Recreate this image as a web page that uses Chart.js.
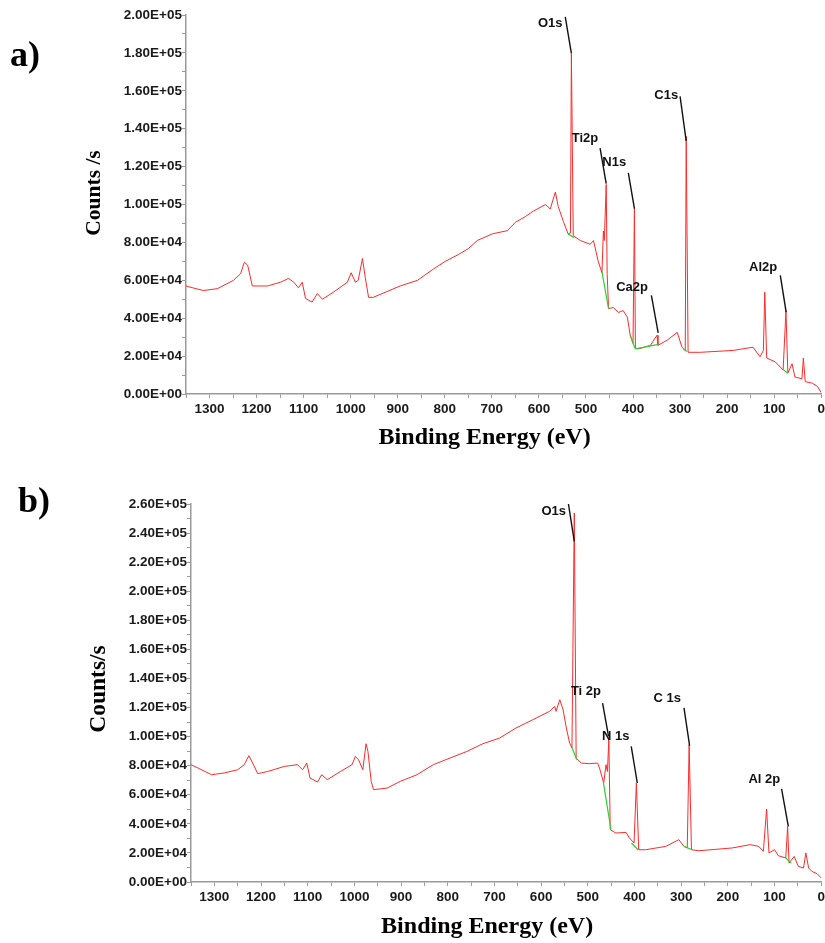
<!doctype html>
<html lang="en">
<head>
<meta charset="UTF-8">
<title>XPS survey spectra</title>
<style>
    * {
        margin: 0;
        padding: 0;
        box-sizing: border-box;
    }

    body {
        width: 825px;
        height: 943px;
        background: #fff;
        position: relative;
        overflow: hidden;
    }

    .panel {
        position: absolute;
        left: 0;
    }

    #panelA { top: 0; }
    #panelB { top: 470px; }

    .tag {
        position: absolute;
        font: bold 36px/36px 'Liberation Serif', 'Times New Roman', serif;
        color: #000;
    }

    #tagA { left: 10px; top: 36px; }
    #tagB { left: 18px; top: 482px; }
</style>
</head>
<body>

<canvas id="panelA" class="panel" width="828" height="470"></canvas>
<canvas id="panelB" class="panel" width="828" height="473"></canvas>
<div id="tagA" class="tag">a)</div>
<div id="tagB" class="tag">b)</div>

<script src="https://cdn.jsdelivr.net/npm/chart.js"></script>

<script>
    // binding energy (eV) and counts/s in thousands

    // a)
    const energyA = [1350, 1335, 1313, 1283, 1249, 1234, 1226, 1219, 1209, 1177, 1149, 1132, 1121, 1111, 1103,
        1096, 1082, 1071, 1060, 1037, 1007, 999, 990, 984, 975, 969, 962, 952, 895, 858, 824, 799, 771, 750,
        731, 699, 667, 650, 629, 612, 586, 576, 565, 559, 548, 538, 533, 531, 527, 512, 491, 484, 474, 466,
        463, 461, 457, 455, 452, 442, 431, 421, 412, 406, 400, 397, 395, 385, 363, 349, 347, 328, 306, 296,
        289, 287, 283, 257, 187, 145, 130, 123, 120, 116, 98, 81, 75, 71, 62, 56, 41, 38, 34, 19, 8, 0];
    const countsA = [57, 56, 54.6, 55.6, 60, 63.5, 69.5, 68, 57, 57, 59, 61, 59, 56, 59,
        50.4, 48.5, 53, 50, 53.7, 59, 64, 59, 60, 71.5, 61.5, 51, 51, 57, 60, 66, 70, 73.6, 76.7,
        81, 84.5, 86.2, 90.6, 93.6, 96.5, 100, 97.6, 106.6, 99, 91, 84.5, 85, 179.6, 83.5, 81, 79, 81, 70, 64,
        86, 81, 110.6, 63.5, 45, 45.7, 43, 44, 40.5, 31, 26.7, 98, 24, 24, 25.7, 31, 25.7, 28.3, 32.5, 24.7,
        23, 136, 22, 22, 23, 24.7, 19.6, 23, 53.7, 19, 17, 12.7, 44, 11, 16, 9, 8, 19, 6.5, 5.7, 4, 0.7];

    // background segments under the peaks (green), null = gap
    const bgEnergyA = [538, 525, 500, 466, 452, 430, 406, 396, 396, 395, 346, 320, 293, 285.5, 150, 80, 71];
    const bgCountsA = [84.5, 82.5, null, 64.4, 45.1, null, 31.1, 24.1, null, 23.8, 26.2, null, 23.8, 22.4, null, 12.7, 11];

    const peaksA = [
        { text: 'O1s', tx: 576, ty: 195.4, x1: 544, y1: 199, x2: 531, y2: 179.7 },
        { text: 'Ti2p', tx: 502, ty: 135, x1: 470, y1: 129.8, x2: 457, y2: 111 },
        { text: 'N1s', tx: 440, ty: 122, x1: 410, y1: 116.7, x2: 397, y2: 97.8 },
        { text: 'Ca2p', tx: 402, ty: 56.4, x1: 361, y1: 52, x2: 346.5, y2: 32.2 },
        { text: 'C1s', tx: 329.5, ty: 157.6, x1: 300, y1: 157.1, x2: 287, y2: 133.5 },
        { text: 'Al2p', tx: 123.5, ty: 66.8, x1: 87, y1: 62.6, x2: 74.6, y2: 43.2 }
    ];

    // b)
    const energyB = [1350, 1335, 1306, 1279, 1250, 1236, 1226, 1218, 1207, 1186, 1150, 1122, 1111, 1102, 1095,
        1079, 1070, 1058, 1030, 1005, 998, 991, 982, 975, 971, 964, 959, 930, 902, 866, 831, 795, 759, 725,
        689, 654, 618, 582, 571, 568, 560, 553, 546, 539, 534, 529, 525, 514, 497, 479, 475, 466, 461, 458,
        455, 452, 440, 418, 411, 401, 396, 391, 376, 333, 305, 294, 287, 283, 278, 262, 191, 152, 134, 124,
        117, 112, 100, 92, 76, 72, 69, 58, 49, 38, 33, 27, 20, 9, 0];
    const countsB = [80.7, 78.4, 73.8, 75, 77.2, 80.7, 86.9, 81.8, 74.5, 76, 79.5, 80.7, 77.2, 81.8, 71.5,
        68.8, 73.8, 70.4, 76, 80.7, 86.4, 84.1, 77.2, 95.1, 89.8, 69.2, 63.5, 64.6, 69.2, 73.8, 80.7, 85.3, 89.8, 95.1,
        99, 105.9, 111.6, 117.4, 120.8, 117.4, 125.4, 118.5, 105.9, 95.6, 92.2, 253.8, 85.3, 81.8, 81.4, 81.8, 78.4, 68.1, 80.7, 76,
        97.9, 36, 33.7, 34.1, 30.3, 26.8, 68.1, 22.2, 22.2, 24.5, 29.1, 24.5, 23.4, 94.4, 22.2, 21.5, 23.4, 25.7, 24.5, 21.1,
        50.2, 20, 22.2, 18.1, 16.5, 38.2, 13, 17.6, 10.7, 9.6, 20, 9.6, 7.3, 5.7, 2.8];

    const bgEnergyB = [533.6, 523.7, 500, 467, 450.5, 430, 406.5, 392.3, 350, 294, 276.4, 150, 75.8, 64.3];
    const bgCountsB = [92.2, 84.1, null, 69.2, 36, null, 26.8, 22.2, null, 24.5, 22.2, null, 16.5, 13];

    const peaksB = [
        { text: 'O1s', tx: 573, ty: 254.9, x1: 541.5, y1: 260, x2: 529, y2: 234.3 },
        { text: 'Ti 2p', tx: 504, ty: 131.1, x1: 468.4, y1: 123.1, x2: 455.6, y2: 100.2 },
        { text: 'N 1s', tx: 440, ty: 100.2, x1: 407, y1: 93.3, x2: 394, y2: 68.1 },
        { text: 'C 1s', tx: 330, ty: 126, x1: 294, y1: 119.7, x2: 282, y2: 93.8 },
        { text: 'Al 2p', tx: 122, ty: 70.4, x1: 85, y1: 64, x2: 70.5, y2: 38.2 }
    ];
</script>

<script>
    const tickFont = { family: "'Liberation Sans', Arial, sans-serif", size: 13.5, weight: 'bold' };
    const serif = "'Liberation Serif', 'Times New Roman', serif";
    const axisGray = '#9a9a9a';

    function sciLabel(v) {
        if (v === 0) return '0.00E+00';
        const exp = Math.floor(Math.log10(v) + 1e-9);
        const mant = v / Math.pow(10, exp);
        return mant.toFixed(2) + 'E+' + String(exp).padStart(2, '0');
    }

    function toPoints(es, cs) {
        return es.map((e, i) => ({ x: e, y: cs[i] === null ? null : cs[i] * 1000 }));
    }

    // peak names with leader lines, placed in data units
    function peakPlugin(items) {
        return {
            id: 'peakLabels',
            afterDatasetsDraw(chart) {
                const { ctx, scales: { x, y } } = chart;
                ctx.save();
                ctx.strokeStyle = '#111';
                ctx.lineWidth = 1.4;
                ctx.fillStyle = '#111';
                ctx.font = "bold 13px 'Liberation Sans', Arial, sans-serif";
                ctx.textAlign = 'center';
                ctx.textBaseline = 'middle';
                items.forEach(p => {
                    ctx.beginPath();
                    ctx.moveTo(x.getPixelForValue(p.x1), y.getPixelForValue(p.y1 * 1000));
                    ctx.lineTo(x.getPixelForValue(p.x2), y.getPixelForValue(p.y2 * 1000));
                    ctx.stroke();
                    ctx.fillText(p.text, x.getPixelForValue(p.tx), y.getPixelForValue(p.ty * 1000));
                });
                ctx.restore();
            }
        };
    }

    // axis titles, the figure has them a bit off-centre
    function titlePlugin(o) {
        return {
            id: 'axisTitles',
            afterDraw(chart) {
                const { ctx, chartArea } = chart;
                ctx.save();
                ctx.fillStyle = '#000';
                ctx.textAlign = 'center';
                ctx.textBaseline = 'middle';
                ctx.font = 'bold 24px ' + serif;
                ctx.fillText('Binding Energy (eV)', (chartArea.left + chartArea.right) / 2 + o.xTitleShift, o.xTitleY);
                ctx.translate(o.yTitleX, o.yTitleY);
                ctx.rotate(-Math.PI / 2);
                ctx.font = 'bold ' + o.yTitleSize + 'px ' + serif;
                ctx.fillText(o.yTitle, 0, 0);
                ctx.restore();
            }
        };
    }

    function makeChart(id, o) {
        return new Chart(document.getElementById(id), {
            type: 'line',
            data: {
                datasets: [{
                    data: toPoints(o.bgE, o.bgC),
                    borderColor: '#2ed12e',
                    borderWidth: 1.2,
                    pointRadius: 0,
                    spanGaps: false,
                    order: 0
                }, {
                    data: toPoints(o.e, o.c),
                    borderColor: '#ff2a2a',
                    borderWidth: 1,
                    pointRadius: 0,
                    tension: 0,
                    order: 1
                }]
            },
            options: {
                responsive: false,
                animation: false,
                layout: { padding: { top: o.padTop, right: 0, left: 0, bottom: 0 } },
                plugins: { legend: { display: false }, tooltip: { enabled: false } },
                scales: {
                    x: {
                        type: 'linear',
                        reverse: true,
                        min: 0,
                        max: 1350,
                        afterFit: s => { s.height = o.xHeight; },
                        ticks: {
                            stepSize: 50,
                            autoSkip: false,
                            maxRotation: 0,
                            padding: 3,
                            color: '#1a1a1a',
                            font: tickFont,
                            callback: v => (v % 100 === 0 ? String(v) : '')
                        },
                        grid: { drawOnChartArea: false, drawTicks: true, tickLength: 4, color: axisGray },
                        border: { color: axisGray, width: 1.5 }
                    },
                    y: {
                        min: 0,
                        max: o.yMax,
                        afterFit: s => { s.width = o.yWidth; },
                        ticks: {
                            stepSize: 10000,
                            autoSkip: false,
                            padding: 0,
                            color: '#1a1a1a',
                            font: tickFont,
                            callback: v => (v % 20000 === 0 ? sciLabel(v) : '')
                        },
                        grid: { drawOnChartArea: false, drawTicks: true, tickLength: 4, color: axisGray },
                        border: { color: axisGray, width: 1.5 }
                    }
                }
            },
            plugins: [peakPlugin(o.peaks), titlePlugin(o)]
        });
    }

    makeChart('panelA', {
        e: energyA, c: countsA, bgE: bgEnergyA, bgC: bgCountsA, peaks: peaksA,
        yMax: 200000, yTitle: 'Counts /s', yTitleSize: 21.5,
        padTop: 15, xHeight: 76, yWidth: 186,
        xTitleShift: -19, xTitleY: 438, yTitleX: 94, yTitleY: 193
    });

    makeChart('panelB', {
        e: energyB, c: countsB, bgE: bgEnergyB, bgC: bgCountsB, peaks: peaksB,
        yMax: 260000, yTitle: 'Counts/s', yTitleSize: 23.5,
        padTop: 34, xHeight: 61, yWidth: 191,
        xTitleShift: -19, xTitleY: 457, yTitleX: 99, yTitleY: 219
    });
</script>

</body>
</html>
